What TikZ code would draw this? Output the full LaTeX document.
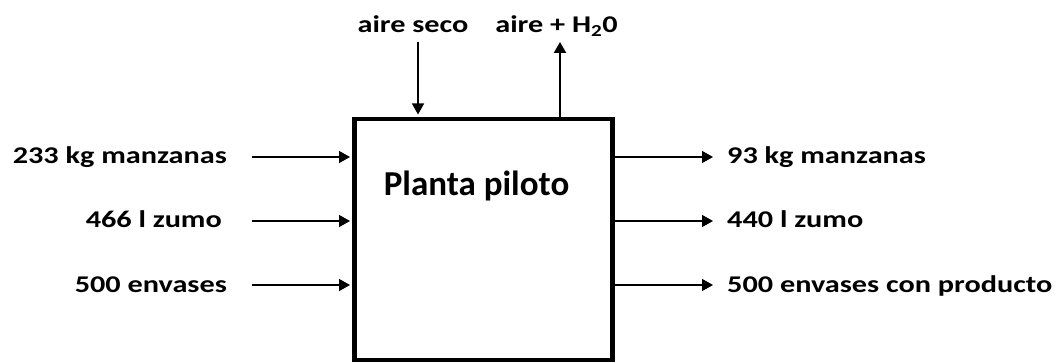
\documentclass[tikz,border=0pt]{standalone}
\usepackage{fontspec}
\setmainfont{Carlito}
\newfontfamily\labelfont{Carlito}[FakeStretch=1.26]
\usetikzlibrary{arrows.meta,positioning}
\tikzset{
  plant/.style={rectangle, draw, line width=4.5pt, inner sep=0pt, minimum width=258pt, minimum height=241pt},
  lbl/.style={font=\labelfont\bfseries\fontsize{24}{28}\selectfont, inner sep=0pt, text height=14pt, text depth=0pt},
  title/.style={font=\bfseries\fontsize{35}{40}\selectfont, inner sep=0pt},
  flow/.style={-{Triangle[length=11pt, width=12pt]}, line width=1.3pt},
  flowout/.style={flow, line width=2pt}
}

\begin{document}
\begin{tikzpicture}[x=1pt, y=-1pt]
\useasboundingbox (0,0) rectangle (1056,363);
\node[plant] (plant) at (483.5,239.5) {};
\node[title, anchor=base] (name) at (476.5,196) {Planta piloto};

% entradas
\node[lbl, anchor=east] (in1) at (227,157) {233 kg manzanas};
\node[lbl, anchor=east] (in2) at (222,221) {466 l zumo};
\node[lbl, anchor=east] (in3) at (227,285) {500 envases};
\coordinate (s1) at (252,157); \coordinate (s2) at (252,221); \coordinate (s3) at (252,285);
\draw[flow, shorten >=2.25pt] (s1) -- (s1 -| plant.west);
\draw[flow, shorten >=2.25pt] (s2) -- (s2 -| plant.west);
\draw[flow, shorten >=2.25pt] (s3) -- (s3 -| plant.west);

% salidas
\node[lbl, anchor=west] (out1) at (727,157) {93 kg manzanas};
\node[lbl, anchor=west] (out2) at (727,221) {440 l zumo};
\node[lbl, anchor=west] (out3) at (727,285) {500 envases con producto};
\coordinate (e1) at (713,157); \coordinate (e2) at (713,221); \coordinate (e3) at (713,285);
\draw[flow] (e1 -| plant.east) -- (e1);
\draw[flow] (e2 -| plant.east) -- (e2);
\draw[flow] (e3 -| plant.east) -- (e3);

% aire
\node[lbl] (dry) at (413,26) {aire seco};
\node[lbl] (wet) at (556.5,26) {aire + H\textsubscript{2}0};
\coordinate (dn) at (418,42); \coordinate (up) at (560,42);
\draw[flow, shorten >=2.25pt] (dn) -- (dn |- plant.north);
\draw[flowout] (up |- plant.north) -- (up);
\end{tikzpicture}
\end{document}
